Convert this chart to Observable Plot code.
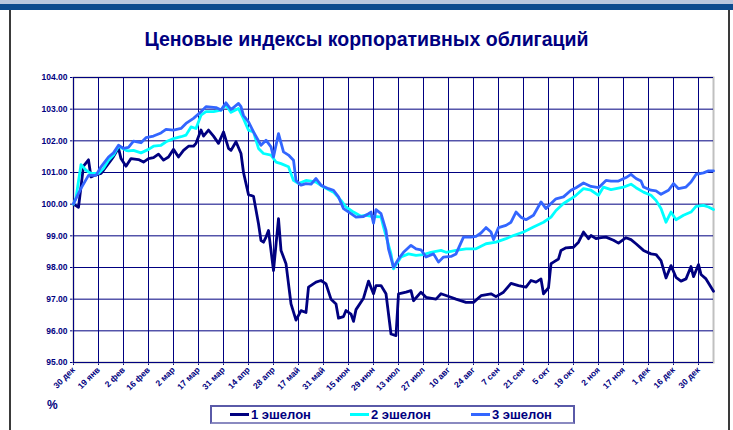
<!DOCTYPE html>
<html>
<head>
<meta charset="utf-8">
<script src="https://cdn.jsdelivr.net/npm/d3@7"></script>
<script src="https://cdn.jsdelivr.net/npm/@observablehq/plot@0.6"></script>
<style>
  body { margin: 0; background: #fff; }
  #page { position: relative; width: 733px; height: 430px; overflow: hidden; background: #fff; font-family: "Liberation Sans", Arial, sans-serif; }
  .abs { position: absolute; }
  #chart svg text { font-weight: bold; }
</style>
</head>
<body>
<div id="page">
  <div class="abs" style="left:0;top:0;width:733px;height:4px;background:#b9c6de;"></div>
  <div class="abs" style="left:0;top:4px;width:733px;height:6px;background:#0d4a8e;"></div>
  <div class="abs" style="left:9px;top:10px;width:717px;height:430px;border-left:2px solid #3a3a3a;border-right:2px solid #3a3a3a;"></div>
  <div id="title" class="abs" style="left:0;top:28px;width:733px;text-align:center;font-weight:bold;font-size:19.5px;color:#000080;"></div>
  <div id="chart" class="abs" style="left:0;top:0;"></div>
  <div id="unit" class="abs" style="left:47px;top:398px;font-weight:bold;font-size:12px;color:#000080;"></div>
  <div id="legend" class="abs" style="left:210px;top:405px;width:361px;height:15px;border:2px solid #5a5aa8;border-bottom-color:#8a8ac0;"></div>
</div>
<script>
const titleText = "Ценовые индексы корпоративных облигаций";
const unitText = "%";
const seriesNames = ["1 эшелон", "2 эшелон", "3 эшелон"];
const seriesColors = ["#000080", "#00ffff", "#3366ff"];

const xTickDays = [0,10,20,30,40,50,60,70,80,90,100,110,120,130,140,150,160,170,180,190,200,210,220,230,240,250];
const xTickLabels = ["30 дек","19 янв","2 фев","16 фев","2 мар","17 мар","31 мар","14 апр","28 апр","17 май","31 май","15 июн","29 июн","13 июл","27 июл","10 авг","24 авг","7 сен","21 сен","5 окт","19 окт","2 ноя","17 ноя","1 дек","16 дек","30 дек"];
const xDomain = [0, 256];
const yTicks = [95,96,97,98,99,100,101,102,103,104];

const e1Day = [0,2,4,6,7,8,11,12,15,16,18,19,21,23,26,28,30,32,34,36,38,40,42,44,46,48,49,51,52,54,56,58,60,62,63,65,67,68,70,72,74,75,76,77,78,80,82,83,85,87,89,91,93,94,97,99,101,103,105,106,108,109,111,112,113,116,118,120,121,123,125,127,129,130,133,135,136,139,141,145,147,151,153,157,160,163,167,169,172,175,178,181,183,185,187,188,190,191,192,194,195,197,200,202,204,206,207,209,211,213,216,218,221,223,225,228,231,233,235,237,239,241,243,245,247,248,250,251,253,256];
const e1Val = [100.0,99.9,101.2,101.4,100.86,100.9,100.97,101.07,101.39,101.5,101.77,101.44,101.2,101.44,101.41,101.33,101.44,101.47,101.58,101.39,101.49,101.73,101.49,101.7,101.83,101.83,101.92,102.34,102.15,102.34,102.15,101.92,102.28,101.76,101.7,101.97,101.6,101.0,100.3,100.25,99.38,98.85,98.8,98.96,99.17,97.9,99.54,98.54,98.12,96.85,96.34,96.64,96.58,97.38,97.54,97.59,97.48,97.0,96.85,96.4,96.45,96.64,96.53,96.3,96.67,97.03,97.57,97.17,97.43,97.43,97.17,95.9,95.85,97.17,97.22,97.27,96.95,97.22,97.06,97.0,97.17,97.06,97.0,96.9,96.9,97.11,97.17,97.08,97.22,97.5,97.43,97.38,97.59,97.54,97.64,97.17,97.36,98.12,98.17,98.27,98.54,98.62,98.64,98.8,99.12,98.91,99.01,98.91,98.94,98.96,98.86,98.77,98.94,98.88,98.75,98.54,98.43,98.41,98.22,97.67,98.06,97.69,97.57,97.64,98.03,97.71,98.09,97.78,97.64,97.25];

const e2Day = [0,1,3,5,7,10,12,14,16,18,21,22,24,27,30,32,35,37,40,43,45,47,49,51,53,56,59,61,63,66,68,70,72,74,76,79,81,83,86,88,90,93,97,100,104,107,109,112,115,117,120,123,124,127,128,131,134,137,140,143,147,149,153,157,161,165,169,173,176,180,184,188,191,193,196,199,201,204,207,210,212,215,217,220,223,225,228,231,233,235,237,239,241,244,247,249,252,254,256];
const e2Val = [100.0,100.2,101.25,101.07,100.97,100.97,101.13,101.39,101.55,101.83,101.7,101.68,101.7,101.62,101.73,101.83,101.86,101.97,102.07,102.13,102.18,102.44,102.39,102.81,102.92,102.92,102.97,103.13,102.9,103.02,102.7,102.34,102.28,101.76,101.6,101.55,101.33,101.28,101.18,100.75,100.65,100.75,100.7,100.54,100.38,100.12,99.91,99.75,99.62,99.65,99.61,99.6,99.28,98.43,97.96,98.33,98.43,98.38,98.41,98.48,98.54,98.48,98.54,98.59,98.59,98.75,98.8,98.91,99.01,99.12,99.28,99.43,99.59,99.8,100.02,100.17,100.28,100.49,100.44,100.28,100.54,100.46,100.49,100.54,100.63,100.52,100.38,100.28,100.12,99.86,99.43,99.75,99.51,99.65,99.75,99.93,99.96,99.91,99.83];

const e3Day = [0,3,6,9,11,14,16,18,20,22,24,27,29,32,35,37,40,43,45,48,51,53,57,59,61,63,66,67,68,70,72,75,77,79,80,82,84,86,88,89,91,93,95,97,99,102,104,106,108,111,113,116,118,119,120,121,123,125,126,128,130,132,135,137,139,141,144,146,148,151,153,156,159,161,163,165,167,168,170,173,175,177,179,181,184,187,189,191,193,196,199,201,204,207,210,213,215,218,221,223,225,227,228,231,233,235,238,240,242,245,247,249,252,254,256];
const e3Val = [100.02,100.5,100.91,100.91,101.18,101.49,101.62,101.86,101.76,101.79,101.99,101.94,102.1,102.15,102.25,102.36,102.34,102.39,102.55,102.71,102.92,103.08,103.05,102.97,103.2,102.99,103.18,103.08,102.8,102.6,102.28,101.86,102.02,101.81,101.49,102.23,101.65,101.55,101.39,100.75,100.6,100.65,100.63,100.81,100.6,100.49,100.44,100.23,99.86,99.7,99.59,99.61,99.7,99.75,99.4,99.83,99.7,99.17,98.59,98.01,98.27,98.48,98.7,98.59,98.56,98.33,98.43,98.17,98.33,98.35,98.43,98.96,98.96,98.98,99.09,99.26,99.12,98.88,99.26,99.33,99.43,99.75,99.59,99.51,99.65,100.07,99.86,100.02,100.17,100.23,100.44,100.52,100.67,100.56,100.52,100.75,100.73,100.73,100.84,100.94,100.81,100.73,100.54,100.44,100.42,100.31,100.44,100.65,100.49,100.54,100.7,100.94,100.99,101.05,101.05];

const days = [e1Day, e2Day, e3Day];
const vals = [e1Val, e2Val, e3Val];
const rows = [];
days.forEach((ds, s) => ds.forEach((d, i) => rows.push({day: d, value: vals[s][i], series: seriesNames[s]})));

const navy = "#000080";
const chart = Plot.plot({
  width: 733,
  height: 400,
  marginTop: 77,
  marginBottom: 38,
  marginLeft: 73,
  marginRight: 20,
  style: {background: "transparent", fontFamily: "'Liberation Sans', Arial, sans-serif", fontSize: "8.5px", color: navy},
  x: {domain: xDomain, ticks: xTickDays, tickFormat: d => xTickLabels[xTickDays.indexOf(d)], tickRotate: -45, tickSize: 3, tickPadding: 3, label: null},
  y: {domain: [yTicks[0], yTicks[yTicks.length - 1]], ticks: yTicks, tickFormat: d => d.toFixed(2), tickSize: 3, tickPadding: 3, label: null},
  color: {domain: seriesNames, range: seriesColors},
  marks: [
    Plot.frame({stroke: "#c0c0c0", strokeWidth: 2}),
    Plot.ruleY(yTicks, {stroke: navy, strokeWidth: 1}),
    Plot.ruleX(xTickDays, {stroke: navy, strokeWidth: 1}),
    Plot.line(rows, {x: "day", y: "value", z: "series", stroke: "series", strokeWidth: 2.8, strokeLinejoin: "round", strokeLinecap: "round"})
  ]
});
document.getElementById("chart").appendChild(chart);
document.getElementById("title").textContent = titleText;
document.getElementById("unit").textContent = unitText;

const legend = document.getElementById("legend");
const offsets = [18, 138, 259];
seriesNames.forEach((name, i) => {
  const item = document.createElement("div");
  item.style.cssText = `position:absolute;left:${offsets[i]}px;top:0;height:15px;display:flex;align-items:center;white-space:nowrap;`;
  const sw = document.createElement("span");
  sw.style.cssText = `display:inline-block;width:19px;height:3px;background:${seriesColors[i]};margin-right:2px;`;
  const tx = document.createElement("span");
  tx.textContent = name;
  tx.style.cssText = `font-weight:bold;font-size:13px;color:${navy};line-height:15px;`;
  item.appendChild(sw); item.appendChild(tx);
  legend.appendChild(item);
});
</script>
</body>
</html>
